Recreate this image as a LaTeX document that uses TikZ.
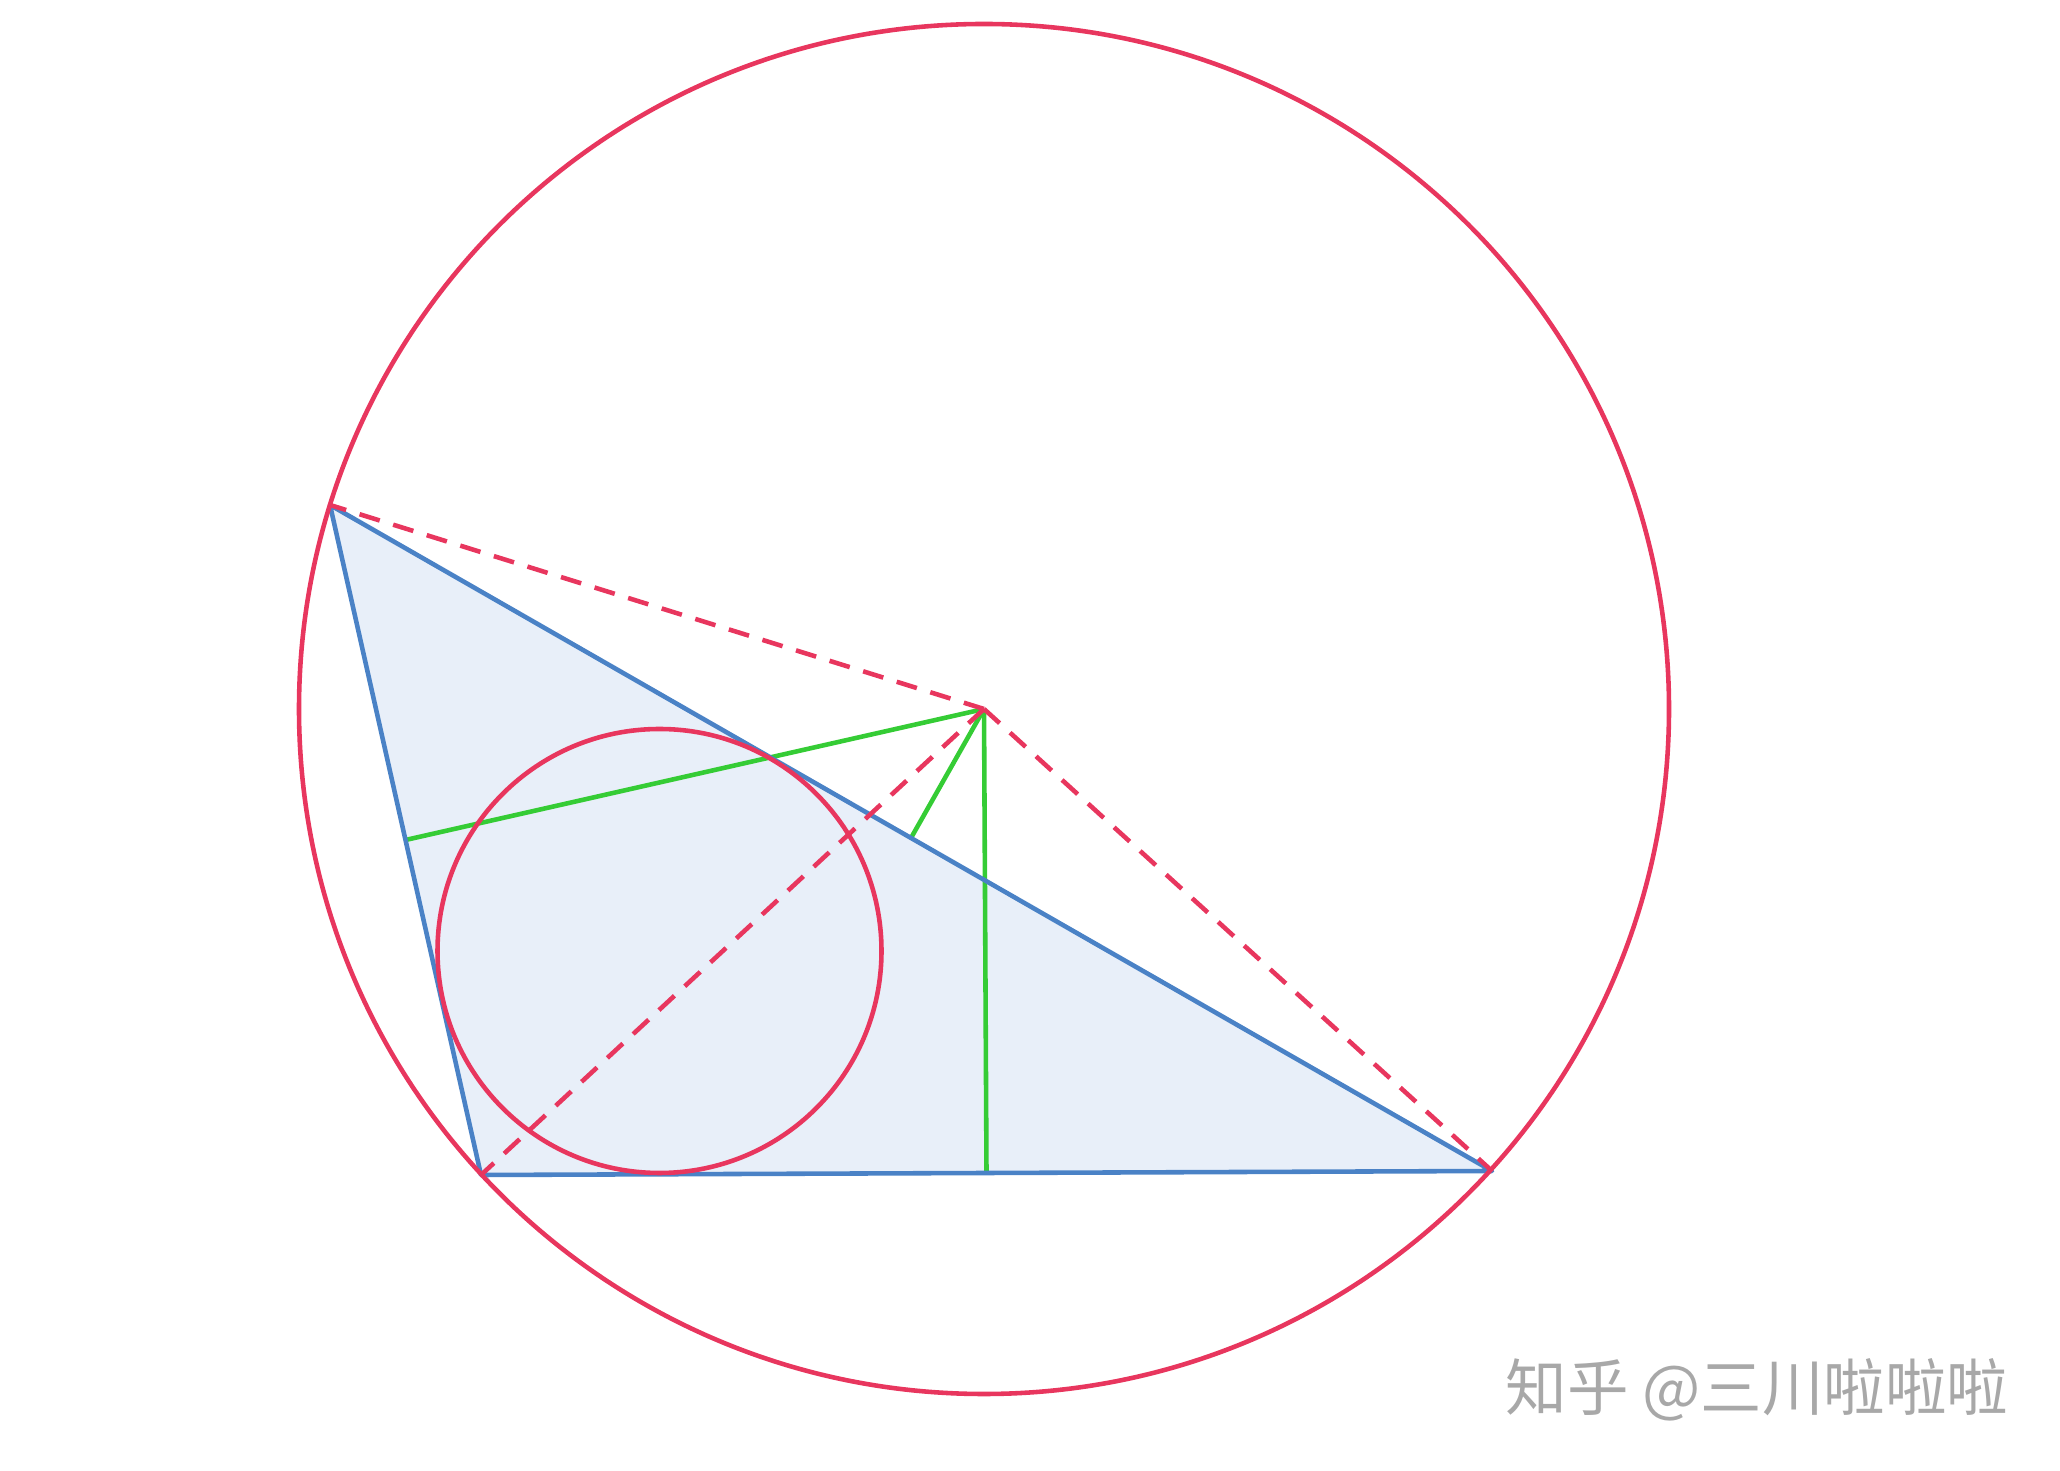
\documentclass[tikz,border=0pt]{standalone}
\usepackage{fontspec}
\newfontfamily\cjk{Noto Sans CJK SC}
\usetikzlibrary{calc}
\definecolor{cred}{HTML}{E8365E}
\definecolor{cblue}{HTML}{4A82C6}
\definecolor{cfill}{HTML}{E8EFF9}
\definecolor{cgreen}{HTML}{35CC35}
\definecolor{cgray}{HTML}{A8A8A8}
\tikzset{
  circ/.style={draw=cred, line width=1.3pt},
  tri/.style={draw=cblue, line width=1.3pt, line join=round},
  gline/.style={draw=cgreen, line width=1.3pt},
  dline/.style={draw=cred, line width=1.3pt, dash pattern=on 6pt off 4pt},
}
\begin{document}
\begin{tikzpicture}[x=0.01cm, y=-0.01cm]
\useasboundingbox (0,0) rectangle (2060,1471);
\coordinate (A) at (330,505);
\coordinate (B) at (481,1175);
\coordinate (C) at (1492,1171);
\coordinate (O) at (984,709);
\coordinate (I) at (659.5,951);
\coordinate (Mab) at ($(A)!0.5!(B)$);
\coordinate (Mac) at ($(A)!0.5!(C)$);
\coordinate (Mbc) at ($(B)!0.5!(C)$);
\path[fill=cfill] (A) -- (B) -- (C) -- cycle;
\draw[gline] (O) -- (Mab);
\draw[gline] (O) -- (Mac);
\draw[gline] (O) -- (Mbc);
\draw[tri] (A) -- (B) -- (C) -- cycle;
\draw[circ] (O) circle[radius=685];
\draw[circ] (I) circle[radius=222];
\draw[dline] (O) -- (A);
\draw[dline] (O) -- (B);
\draw[dline] (O) -- (C);
\node[text=cgray, font=\cjk\fontsize{17.5pt}{18pt}\selectfont, inner sep=0pt] (wm) at (1757,1390) {知乎 @三川啦啦啦};
\end{tikzpicture}
\end{document}
